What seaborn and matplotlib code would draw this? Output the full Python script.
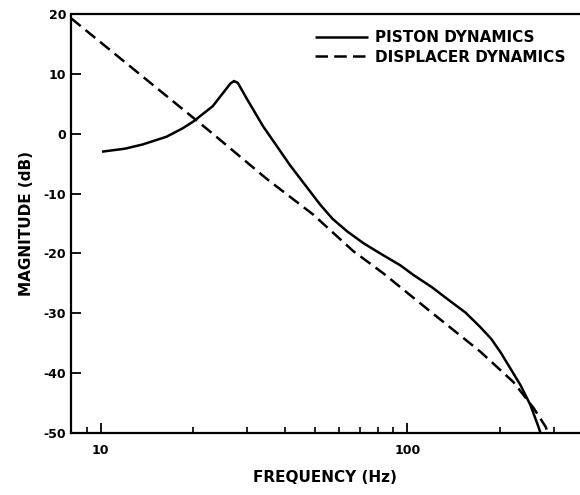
import pandas as pd
import matplotlib
matplotlib.use("Agg")
import matplotlib.pyplot as plt
import matplotlib.ticker as mticker
import seaborn as sns

# values
piston_freq = [10.1, 12.0, 13.7, 16.4, 18.5, 20.0, 23.2, 25.5, 26.5, 27.2, 28.0,
               30.0, 33.8, 41.5, 51.9, 57.0, 63.6, 72.0, 81.6, 95.0, 104.7,
               120.0, 135.0, 155.0, 173.0, 188.0, 202.0, 234.0, 252.0, 268.0, 272.0]
piston_db = [-3.0, -2.5, -1.8, -0.5, 0.9, 2.0, 4.6, 7.3, 8.4, 8.8, 8.5,
             5.8, 1.3, -5.3, -11.8, -14.2, -16.3, -18.3, -20.0, -22.0, -23.6,
             -25.6, -27.6, -29.9, -32.3, -34.3, -36.6, -42.0, -45.3, -49.0, -50.0]

displacer_freq = [8.0, 20.0, 22.7, 34.9, 49.3, 66.6, 83.4, 118.9, 173.0, 222.0,
                  258.0, 283.0, 287.0]
displacer_db = [19.3, 2.7, 0.4, -7.6, -13.5, -19.6, -23.3, -29.7, -36.4, -41.5,
                -45.8, -49.0, -50.0]

series_names = ["PISTON DYNAMICS", "DISPLACER DYNAMICS"]
y_ticks = [20, 10, 0, -10, -20, -30, -40, -50]

df = pd.concat([
    pd.DataFrame({"freq": piston_freq, "mag": piston_db, "curve": series_names[0]}),
    pd.DataFrame({"freq": displacer_freq, "mag": displacer_db, "curve": series_names[1]}),
])

sns.set_style("ticks")
plt.rcParams["font.family"] = ["DejaVu Sans"]
plt.rcParams["font.weight"] = "bold"
plt.rcParams["axes.unicode_minus"] = False
for key in ["text.color", "axes.labelcolor", "xtick.color", "ytick.color"]:
    plt.rcParams[key] = "black"

fig = plt.figure(figsize=(5.8, 4.95), dpi=100)
ax = fig.add_axes([0.1224, 0.1253, 0.877, 0.8464])

sns.lineplot(
    data=df, x="freq", y="mag", hue="curve", style="curve",
    palette=["black", "black"], dashes=[(1, 0), (5, 2.5)],
    linewidth=1.8, sort=False, estimator=None, ax=ax,
)

ax.set_xscale("log")
ax.set_xlim(8, 365)
ax.set_ylim(-50, 20)
ax.set_yticks(y_ticks)
ax.xaxis.set_major_locator(mticker.FixedLocator([10, 100]))
ax.xaxis.set_major_formatter(mticker.FixedFormatter(["10", "100"]))
ax.xaxis.set_minor_locator(mticker.LogLocator(base=10, subs=range(2, 10)))
ax.xaxis.set_minor_formatter(mticker.NullFormatter())
ax.tick_params(axis="both", which="major", direction="in", length=7, width=1.3,
               labelsize=9, colors="black")
ax.tick_params(axis="x", which="minor", direction="in", length=4, width=1.2,
               colors="black")
ax.tick_params(axis="x", pad=8)

for side in ["left", "bottom", "top"]:
    ax.spines[side].set_linewidth(1.6)
    ax.spines[side].set_color("black")
ax.spines["right"].set_visible(False)

ax.set_xlabel("FREQUENCY (Hz)", fontsize=11, fontweight="bold", labelpad=9,
              color="black")
ax.set_ylabel("MAGNITUDE (dB)", fontsize=11, fontweight="bold", labelpad=7,
              color="black")

leg = ax.legend(loc="upper left", bbox_to_anchor=(315 / 580, 1 - 30 / 495),
                bbox_transform=fig.transFigure, frameon=False, fontsize=11,
                handlelength=3.5, handletextpad=0.45, borderaxespad=0,
                borderpad=0, labelspacing=0.3, labelcolor="black")
leg.set_title(None)

fig.savefig("out.png", dpi=100)
